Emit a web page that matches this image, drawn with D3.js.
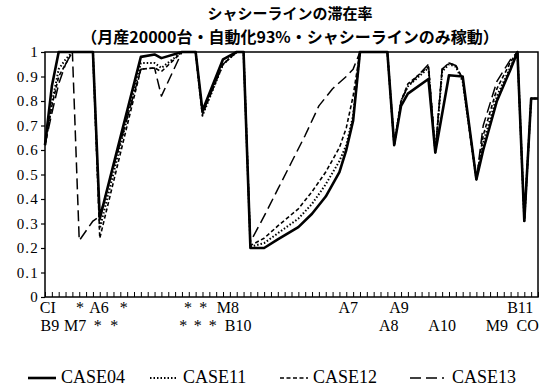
<!DOCTYPE html>
<html>
<head>
<meta charset="utf-8">
<script src="https://cdn.jsdelivr.net/npm/d3@7"></script>
<style>
  body { margin: 0; background: #fff; }
</style>
</head>
<body>
<svg id="chart" width="556" height="390"></svg>
<script>
// Stations along the chassis line (index 0 = CI ... last = CO)
const stationCount = 72;

// Y axis ticks
const yTickValues = [0, 0.1, 0.2, 0.3, 0.4, 0.5, 0.6, 0.7, 0.8, 0.9, 1];
const yTickLabels = ["0", "0.1", "0.2", "0.3", "0.4", "0.5", "0.6", "0.7", "0.8", "0.9", "1"];

// Station names printed under the axis: text, station index, row
const stationLabelText = ["CI", "*", "A6", "*", "*", "*", "M8", "A7", "A9", "B11",
                          "B9", "M7", "*", "*", "*", "*", "*", "B10", "A8", "A10", "M9", "CO"];
const stationLabelPos  = [0.4, 5.1, 7.9, 11.5, 20.9, 23.1, 26.7, 44.3, 51.7, 69.4,
                          0.7, 4.4, 7.7, 10.1, 20.2, 22.3, 24.5, 28.2, 50.2, 58, 66, 70.5];
const stationLabelRow  = [0, 0, 0, 0, 0, 0, 0, 0, 0, 0,
                          1, 1, 1, 1, 1, 1, 1, 1, 1, 1, 1, 1];

// Occupancy ratio per case: [station index, ratio]
const case04 = [[0,0.62],[1,0.86],[2,1.0],[7,1.0],[8,0.32],[14,0.98],[16,0.99],[17,0.975],[20,1.0],
  [22,1.0],[23,0.76],[26,0.97],[28,1.0],[29,1.0],[30,0.2],[32,0.2],[34,0.235],[37,0.285],[39,0.34],
  [41,0.41],[43,0.51],[44,0.6],[45,0.72],[46,1.0],[50,1.0],[51,0.62],[52,0.78],[53,0.83],[56,0.89],
  [57,0.59],[59,0.905],[61,0.9],[63,0.48],[64,0.6],[66,0.8],[68,0.93],[69,1.0],[70,0.31],[71,0.81],[72,0.81]];
const case11 = [[0,0.62],[1,0.79],[2,0.93],[3,0.97],[4,1.0],[7,1.0],[8,0.28],[14,0.955],[16,0.955],[17,0.935],[20,1.0],
  [22,1.0],[23,0.74],[26,0.95],[28,1.0],[29,1.0],[30,0.205],[32,0.22],[34,0.26],[37,0.32],[39,0.38],
  [41,0.46],[43,0.555],[44,0.62],[45,0.74],[46,1.0],[50,1.0],[51,0.62],[52,0.8],[53,0.86],[56,0.935],
  [57,0.59],[58,0.92],[59,0.95],[60,0.94],[61,0.88],[63,0.48],[64,0.63],[66,0.82],[68,0.94],[69,1.0],[70,0.31],[71,0.81],[72,0.81]];
const case12 = [[0,0.62],[1,0.78],[2,0.9],[3,0.95],[4,1.0],[7,1.0],[8,0.24],[14,0.93],[16,0.935],[17,0.92],[20,1.0],
  [22,1.0],[23,0.745],[26,0.95],[28,1.0],[29,1.0],[30,0.21],[32,0.24],[34,0.29],[37,0.36],[39,0.43],
  [41,0.51],[43,0.61],[44,0.69],[45,0.82],[46,1.0],[50,1.0],[51,0.62],[52,0.8],[53,0.87],[56,0.94],
  [57,0.59],[58,0.93],[59,0.955],[60,0.945],[61,0.89],[63,0.48],[64,0.66],[66,0.85],[68,0.96],[69,1.0],[70,0.31],[71,0.81],[72,0.81]];
const case13 = [[0,0.62],[1,0.75],[2,0.87],[3,0.95],[4,1.0],[5,0.23],[7,0.31],[8,0.33],[14,0.93],[16,0.935],[17,0.82],[20,1.0],
  [22,1.0],[23,0.75],[26,0.95],[28,1.0],[29,1.0],[30,0.225],[32,0.33],[34,0.44],[36,0.55],[38,0.66],
  [40,0.78],[42,0.85],[44,0.9],[45,0.93],[46,1.0],[50,1.0],[51,0.62],[52,0.8],[53,0.86],[56,0.95],
  [57,0.59],[58,0.93],[59,0.955],[60,0.945],[61,0.89],[63,0.48],[64,0.7],[66,0.88],[68,0.97],[69,1.0],[70,0.31],[71,0.81],[72,0.81]];

const seriesNames = ["CASE04", "CASE11", "CASE12", "CASE13"];
const seriesData = [case04, case11, case12, case13];
const seriesDash = [null, "1.5,2", "4,2.5", "11,5"];
const seriesWidth = [2.6, 2, 1.6, 1.5];

const svg = d3.select("#chart");
const margin = { left: 45, right: 18, top: 52, bottom: 93 };
const W = 556, H = 390;
const serif = "Liberation Serif, DejaVu Serif, serif";

const x = d3.scaleLinear().domain([0, stationCount]).range([margin.left, W - margin.right]);
const y = d3.scaleLinear().domain([0, 1]).range([H - margin.bottom, margin.top]);

// Title
const cjk = "Noto Sans CJK JP";
svg.append("text").attr("font-family", cjk).attr("font-weight", "bold")
  .attr("x", 290).attr("y", 19).attr("text-anchor", "middle")
  .attr("font-size", 15).text("シャシーラインの滞在率");
svg.append("text").attr("font-family", cjk).attr("font-weight", "bold")
  .attr("x", 290).attr("y", 43).attr("text-anchor", "middle")
  .attr("font-size", 16).text("（月産20000台・自動化93%・シャシーラインのみ稼動）");

// Y axis
const yAxis = d3.axisLeft(y).tickValues(yTickValues)
  .tickFormat((d, i) => yTickLabels[i]).tickSize(4).tickPadding(2);
const gy = svg.append("g").attr("transform", `translate(${margin.left},0)`).call(yAxis);
gy.attr("font-family", serif).attr("font-size", 15);
gy.select(".domain").remove();
gy.selectAll("text").attr("font-family", serif).attr("font-size", 15).attr("letter-spacing", 1.2);
gy.selectAll("line").attr("stroke", "#000").attr("stroke-width", 1.2);

// X axis: one tick per station, pointing inwards
const xAxis = d3.axisBottom(x).tickValues(d3.range(0, stationCount + 1))
  .tickSize(-5).tickFormat("");
const gx = svg.append("g").attr("transform", `translate(0,${y(0)})`).call(xAxis);
gx.select(".domain").remove();
gx.selectAll("line").attr("stroke", "#000").attr("stroke-width", 1);

// Plot frame
svg.append("rect").attr("x", x(0)).attr("y", y(1))
  .attr("width", x(stationCount) - x(0)).attr("height", y(0) - y(1))
  .attr("fill", "none").attr("stroke", "#000").attr("stroke-width", 1.5);

// Station names
svg.append("g").attr("font-family", serif).attr("font-size", 16)
  .selectAll("text").data(stationLabelText).join("text")
  .attr("x", (d, i) => x(stationLabelPos[i]))
  .attr("y", (d, i) => stationLabelRow[i] === 0 ? 313 : 331)
  .attr("text-anchor", "middle").text(d => d);

// Lines
const line = d3.line().x(d => x(d[0])).y(d => y(d[1]));
const plot = svg.append("g");
seriesData.forEach((data, i) => {
  plot.append("path").datum(data).attr("d", line)
    .attr("fill", "none").attr("stroke", "#000")
    .attr("stroke-width", seriesWidth[i])
    .attr("stroke-linejoin", "round")
    .attr("stroke-dasharray", seriesDash[i]);
});

// Legend
const legendX = [28, 150, 280, 410];
const legend = svg.append("g").attr("transform", "translate(0,383)")
  .attr("font-family", serif).attr("font-size", 18);
seriesNames.forEach((name, i) => {
  const g = legend.append("g").attr("transform", `translate(${legendX[i]},0)`);
  g.append("line").attr("x1", 0).attr("x2", i === 3 ? 34 : 28).attr("y1", -5).attr("y2", -5)
    .attr("stroke", "#000").attr("stroke-width", seriesWidth[i])
    .attr("stroke-dasharray", seriesDash[i]);
  g.append("text").attr("x", i === 3 ? 42 : 33).attr("y", 0).text(name);
});
</script>
</body>
</html>
